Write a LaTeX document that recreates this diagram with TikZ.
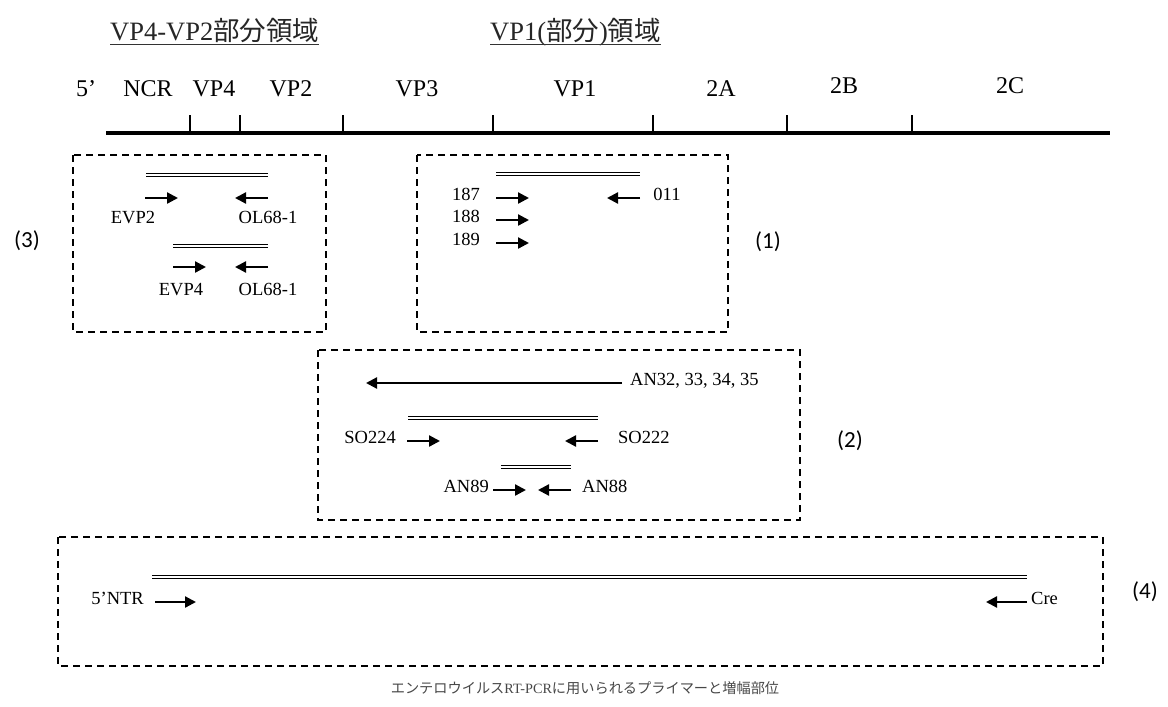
\documentclass[tikz,border=0pt]{standalone}
\usepackage{fontspec}
\setmainfont{Liberation Serif}
\newfontfamily\cjk{Noto Sans CJK JP}
\newfontfamily\numfont{Carlito}
\usetikzlibrary{arrows.meta}
\begin{document}
\begin{tikzpicture}[x=1pt,y=-1pt,
  seg/.style={font=\fontsize{24}{24}\selectfont, anchor=base, inner sep=0pt},
  ttl/.style={font=\fontsize{26.5}{26.5}\selectfont, anchor=base west, inner sep=0pt, text=black!85},
  lbl/.style={font=\fontsize{18.5}{18.5}\selectfont, inner sep=0pt, anchor=mid},
  num/.style={font=\numfont\fontsize{23}{23}\selectfont, inner sep=0pt},
  grp/.style={draw, line width=1.9pt, dash pattern=on 7pt off 5pt},
  fwd/.style={line width=2.3pt, -{Triangle[length=11pt,width=11pt]}},
  amp/.style={double, double distance=1.7pt, line width=1.6pt},
  tickline/.style={line width=1.5pt},
  genome/.style={line width=4.5pt}
]
\useasboundingbox (0,0) rectangle (1168,707);

% titles
\node[ttl] (t1) at (110,40) {VP4-VP2{\cjk 部分領域}};
\node[ttl] (t2) at (490,40) {VP1({\cjk 部分}){\cjk 領域}};
\draw[line width=1pt, black!80] ([yshift=-4pt]t1.base west) -- ([yshift=-4pt]t1.base east);
\draw[line width=1pt, black!80] ([yshift=-4pt]t2.base west) -- ([yshift=-4pt]t2.base east);

% segment labels
\node[seg] (s5) at (86,96) {5’};
\node[seg] (sncr) at (148,96) {NCR};
\node[seg] (svp4) at (214,96) {VP4};
\node[seg] (svp2) at (291,96) {VP2};
\node[seg] (svp3) at (417,96) {VP3};
\node[seg] (svp1) at (575,96) {VP1};
\node[seg] (s2a) at (721,96) {2A};
\node[seg] (s2b) at (844,93) {2B};
\node[seg] (s2c) at (1010,93) {2C};

% genome line
\coordinate (g0) at (106,133);
\coordinate (g1) at (1110,133);
\draw[genome] (g0) -- (g1);
\foreach \x [count=\i] in {190,240,343,493,653,787,912}{
  \coordinate (tb\i) at (\x,133);
  \coordinate (tt\i) at (\x,115);
  \draw[tickline] (tb\i) -- (tt\i);
}

% ---- box (3)
\draw[grp] (73,155) rectangle (326,332);
\node[num] (n3) at (27,241) {(3)};
\coordinate (a1) at (146,175); \coordinate (a2) at (268,175);
\draw[amp] (a1) -- (a2);
\coordinate (p1) at (145,198); \coordinate (p2) at (178,198);
\draw[fwd] (p1) -- (p2);
\coordinate (p3) at (268,198); \coordinate (p4) at (235,198);
\draw[fwd] (p3) -- (p4);
\node[lbl] (evp2) at (133,221) {EVP2};
\node[lbl] (ol1) at (268,221) {OL68-1};
\coordinate (a3) at (173,246); \coordinate (a4) at (268,246);
\draw[amp] (a3) -- (a4);
\coordinate (p5) at (173,267); \coordinate (p6) at (206,267);
\draw[fwd] (p5) -- (p6);
\coordinate (p7) at (268,267); \coordinate (p8) at (235,267);
\draw[fwd] (p7) -- (p8);
\node[lbl] (evp4) at (181,293) {EVP4};
\node[lbl] (ol2) at (268,293) {OL68-1};

% ---- box (1)
\draw[grp] (417,155) rectangle (728,332);
\node[num] (n1) at (768,242) {(1)};
\coordinate (b1) at (496,174); \coordinate (b2) at (640,174);
\draw[amp] (b1) -- (b2);
\node[lbl] (l187) at (466,198) {187};
\node[lbl] (l188) at (466,220) {188};
\node[lbl] (l189) at (466,243) {189};
\node[lbl] (l011) at (667,198) {011};
\coordinate (q1) at (496,198); \coordinate (q2) at (529,198);
\draw[fwd] (q1) -- (q2);
\coordinate (q3) at (496,220); \coordinate (q4) at (529,220);
\draw[fwd] (q3) -- (q4);
\coordinate (q5) at (496,243); \coordinate (q6) at (529,243);
\draw[fwd] (q5) -- (q6);
\coordinate (q7) at (640,198); \coordinate (q8) at (607,198);
\draw[fwd] (q7) -- (q8);

% ---- box (2)
\draw[grp] (318,350) rectangle (800,520);
\node[num] (n2) at (850,441) {(2)};
\coordinate (c1) at (622,383); \coordinate (c2) at (366,383);
\draw[fwd] (c1) -- (c2);
\node[lbl, anchor=mid west] (an32) at (630,383) {AN32, 33, 34, 35};
\coordinate (d1) at (408,418); \coordinate (d2) at (598,418);
\draw[amp] (d1) -- (d2);
\node[lbl, anchor=mid east] (so224) at (396,441) {SO224};
\coordinate (r1) at (407,441); \coordinate (r2) at (440,441);
\draw[fwd] (r1) -- (r2);
\coordinate (r3) at (598,441); \coordinate (r4) at (565,441);
\draw[fwd] (r3) -- (r4);
\node[lbl, anchor=mid west] (so222) at (618,441) {SO222};
\coordinate (d3) at (501,467); \coordinate (d4) at (571,467);
\draw[amp] (d3) -- (d4);
\node[lbl, anchor=mid east] (an89) at (489,490) {AN89};
\coordinate (r5) at (493,490); \coordinate (r6) at (526,490);
\draw[fwd] (r5) -- (r6);
\coordinate (r7) at (571,490); \coordinate (r8) at (538,490);
\draw[fwd] (r7) -- (r8);
\node[lbl, anchor=mid west] (an88) at (582,490) {AN88};

% ---- box (4)
\draw[grp] (58,537) rectangle (1103,666);
\node[num] (n4) at (1145,592) {(4)};
\coordinate (e1) at (152,577); \coordinate (e2) at (1027,577);
\draw[amp] (e1) -- (e2);
\node[lbl, anchor=mid east] (ntr) at (144,602) {5’NTR};
\coordinate (u1) at (155,602); \coordinate (u2) at (196,602);
\draw[fwd] (u1) -- (u2);
\coordinate (u3) at (1027,602); \coordinate (u4) at (986,602);
\draw[fwd] (u3) -- (u4);
\node[lbl, anchor=mid west] (cre) at (1031,602) {Cre};

% caption
\node[font=\cjk\fontsize{14.2}{14.2}\selectfont, text=black!72, inner sep=0pt] (cap) at (585,688) {エンテロウイルス{\rmfamily RT-PCR}に用いられるプライマーと増幅部位};
\end{tikzpicture}
\end{document}
